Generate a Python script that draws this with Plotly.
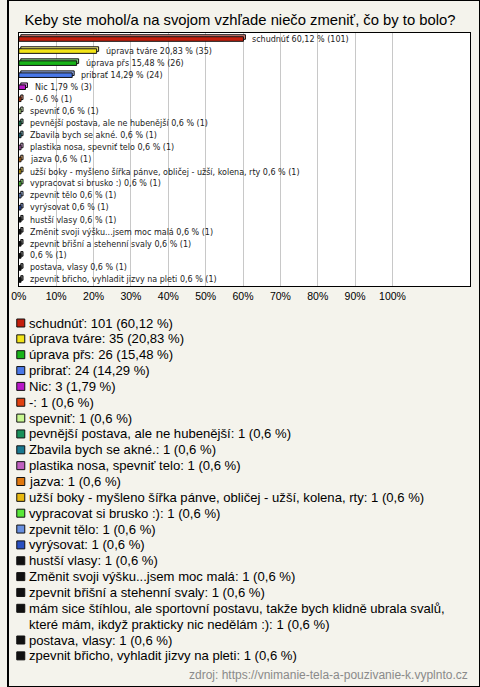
import textwrap
import plotly.graph_objects as go

title = "Keby ste mohol/a na svojom vzhľade niečo zmeniť, čo by to bolo?"
source = "zdroj: https://vnimanie-tela-a-pouzivanie-k.vyplnto.cz"

names = [
    "schudnúť", "úprava tváre", "úprava přs", "pribrať", "Nic", "-", "spevniť",
    "pevnější postava, ale ne hubenější", "Zbavila bych se akné.",
    "plastika nosa, spevniť telo", "jazva",
    "užší boky - myšleno šířka pánve, obličej - užší, kolena, rty",
    "vypracovat si brusko :)", "zpevnit tělo", "vyrýsovat", "hustší vlasy",
    "Změnit svoji výšku...jsem moc malá", "zpevnit břišní a stehenní svaly",
    "mám sice štíhlou, ale sportovní postavu, takže bych klidně ubrala svalů, které mám, ikdyž prakticky nic nedělám :)",
    "postava, vlasy", "zpevnit břicho, vyhladit jizvy na pleti",
]
# label shown next to the bar (the long answer is not named in the chart)
bar_names = names[:18] + [""] + names[19:]
counts = [101, 35, 26, 24, 3, 1, 1, 1, 1, 1, 1, 1, 1, 1, 1, 1, 1, 1, 1, 1, 1]
percents = [60.12, 20.83, 15.48, 14.29, 1.79, 0.6, 0.6, 0.6, 0.6, 0.6, 0.6,
            0.6, 0.6, 0.6, 0.6, 0.6, 0.6, 0.6, 0.6, 0.6, 0.6]
colors = ["#c41e0c", "#f2e418", "#18b418", "#4a78e8", "#b818c8", "#e04010",
          "#c8f890", "#18905a", "#187890", "#c060c0", "#e07810", "#e8b810",
          "#58e838", "#6890e0", "#2850c0", "#111111", "#111111", "#111111",
          "#111111", "#111111", "#111111"]
x_ticks = [0, 10, 20, 30, 40, 50, 60, 70, 80, 90, 100]

W, H = 480, 687
PL, PR, PT, PB = 11, 470, 33, 286
LEG_TOP = 305
PX_PER_PCT = 3.8
n = len(names)
idx = list(range(n))


def fmt(v):
    return f"{v:g}".replace(".", ",")


def lighten(hexc, f=0.45):
    h = hexc.lstrip("#")
    r, g, b = int(h[0:2], 16), int(h[2:4], 16), int(h[4:6], 16)
    r, g, b = [int(c + (255 - c) * f) for c in (r, g, b)]
    return f"rgb({r},{g},{b})"


fig = go.Figure()

bw = 0.38
row_px = (PB - PT) / n
depth_y = 2 / row_px
depth_x = 2 / PX_PER_PCT

# back face (3D depth)
fig.add_trace(go.Bar(
    x=percents, y=idx, orientation="h", base=depth_x, width=bw,
    offset=-bw / 2 - depth_y,
    marker=dict(color=[lighten(c) for c in colors], line=dict(color="#111", width=1)),
    hoverinfo="skip", showlegend=False,
))
# front face
fig.add_trace(go.Bar(
    x=percents, y=idx, orientation="h", width=bw, offset=-bw / 2,
    marker=dict(color=colors, line=dict(color="#111", width=1)),
    hoverinfo="skip", showlegend=False,
))

annotations = []
for i, (nm, p, c) in enumerate(zip(bar_names, percents, counts)):
    txt = (nm + " " if nm else "") + f"{fmt(p)} % ({c})"
    annotations.append(dict(
        x=p, y=i, xref="x", yref="y", text=txt, showarrow=False,
        xanchor="left", yanchor="middle", xshift=7,
        font=dict(family="DejaVu Sans", size=8, color="#222"),
    ))

# legend below the chart (pixel-mapped helper axes)
LEG_Y0, LEG_DY = 323, 15.85
leg_y = []
line = 0
for i, (nm, p, c) in enumerate(zip(names, percents, counts)):
    label = f"{nm}: {c} ({fmt(p)} %)"
    parts = textwrap.wrap(label, width=72)
    leg_y.append(LEG_Y0 + line * LEG_DY)
    for part in parts:
        annotations.append(dict(
            x=19, y=LEG_Y0 + line * LEG_DY, xref="x2", yref="y2", text=part,
            showarrow=False, xanchor="left", yanchor="middle",
            font=dict(family="Liberation Sans", size=13.1, color="#000"),
        ))
        line += 1

fig.add_trace(go.Scatter(
    x=[13] * n, y=leg_y, xaxis="x2", yaxis="y2", mode="markers",
    marker=dict(symbol="square", size=8, color=colors, line=dict(color="#111", width=1)),
    hoverinfo="skip", showlegend=False,
))

annotations.append(dict(
    x=470 / W, y=1 - 675 / H, xref="paper", yref="paper", text=source,
    showarrow=False, xanchor="right", yanchor="middle",
    font=dict(family="Liberation Sans", size=12, color="#8a8a8a"),
))

fig.update_layout(
    width=W, height=H, autosize=False,
    margin=dict(l=0, r=0, t=0, b=0),
    paper_bgcolor="#f4f3ec", plot_bgcolor="#f4f3ec",
    title=dict(text=title, x=0.5, xanchor="center", y=1 - 20 / H, yanchor="middle",
               font=dict(family="Liberation Sans", size=14.8, color="#000")),
    barmode="overlay",
    xaxis=dict(domain=[PL / W, PR / W], range=[0, (PR - PL) / PX_PER_PCT],
               tickvals=x_ticks, ticktext=[f"{t}%" for t in x_ticks],
               showgrid=True, gridcolor="#c8c8c8", gridwidth=1, zeroline=False,
               showline=True, linecolor="#000", linewidth=1, mirror=True,
               ticks="", tickfont=dict(family="Liberation Sans", size=10.5, color="#000"),
               fixedrange=True),
    yaxis=dict(domain=[1 - PB / H, 1 - PT / H], range=[n - 0.5, -0.5],
               showticklabels=False, showgrid=False, zeroline=False,
               showline=True, linecolor="#000", linewidth=1, mirror=True,
               ticks="", fixedrange=True),
    xaxis2=dict(domain=[0, 1], range=[0, W], visible=False, anchor="y2", fixedrange=True),
    yaxis2=dict(domain=[0, 1 - LEG_TOP / H], range=[H, LEG_TOP], visible=False,
                anchor="x2", fixedrange=True),
    annotations=annotations,
    shapes=[
        dict(type="rect", xref="x domain", yref="y domain", x0=0, x1=1, y0=0, y1=1,
             fillcolor="#ffffff", line=dict(width=0), layer="below"),
        dict(type="rect", xref="paper", yref="paper", x0=0, x1=1, y0=0, y1=1,
             line=dict(color="#000", width=2), fillcolor="rgba(0,0,0,0)", layer="above"),
    ],
    showlegend=False,
)

fig.write_html("out.html", config={"displayModeBar": False},
               post_script="document.body.style.margin='0';document.body.style.padding='0';")
